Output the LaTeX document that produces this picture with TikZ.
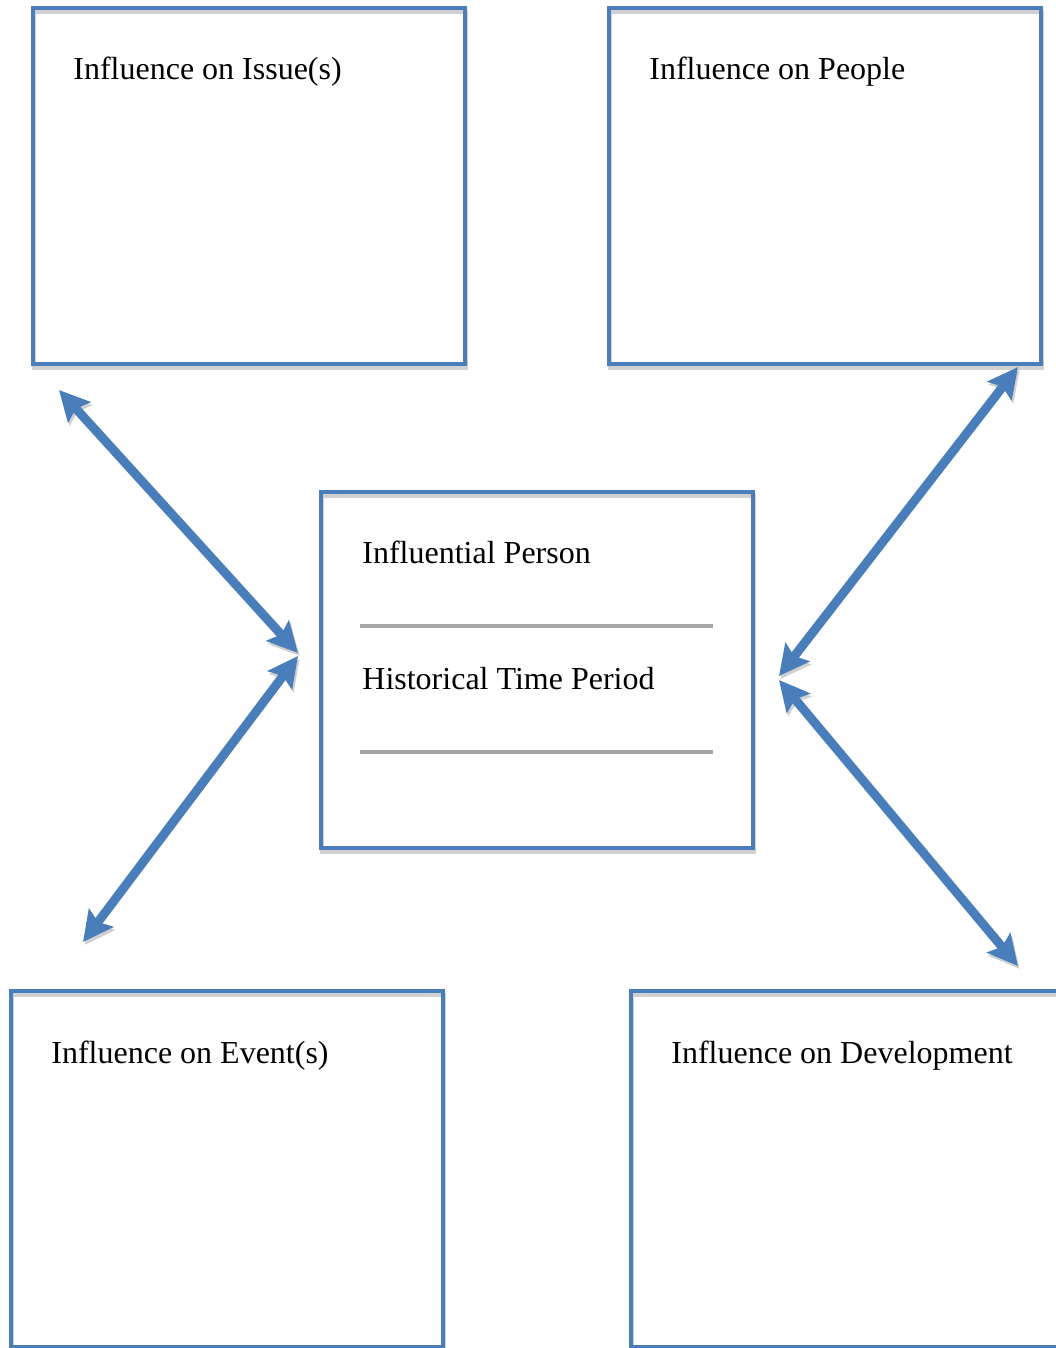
\documentclass[tikz,border=0pt]{standalone}
\usepackage{fontspec}
\setmainfont{Liberation Serif}
\usetikzlibrary{arrows.meta}

\definecolor{boxblue}{RGB}{74,126,187}
\definecolor{shade}{RGB}{208,208,208}
\definecolor{linegray}{RGB}{166,166,166}

\begin{document}
\begin{tikzpicture}[
  x=0.5pt, y=-0.5pt,
  box/.style={rectangle, draw=boxblue, line width=2pt, inner sep=0pt, outer sep=0pt,
              minimum width=216pt, minimum height=178pt,
              preaction={draw=shade, transform canvas={shift={(0.5pt,-2pt)}}}},
  heading/.style={anchor=base west, inner sep=0pt, font=\fontsize{16}{19}\selectfont},
  fillin/.style={draw=linegray, line width=1.6pt},
  link/.style={draw=boxblue, line width=4.5pt,
               {Stealth[length=15pt, width=15pt, inset=2.5pt]}-{Stealth[length=15pt, width=15pt, inset=2.5pt]},
               preaction={draw=shade, transform canvas={shift={(0.8pt,-1.5pt)}}}}
]
\useasboundingbox (0,0) rectangle (1055,1348);

% boxes
\node[box] (issues) at (249,186) {};
\node[box] (people) at (825,186) {};
\node[box] (person) at (537,670) {};
\node[box] (events) at (227,1169) {};
\node[box] (development) at (847,1169) {};

% headings
\node[heading] (issuesText) at ([shift={(40,72)}]issues.north west) {Influence on Issue(s)};
\node[heading] (peopleText) at ([shift={(40,72)}]people.north west) {Influence on People};
\node[heading] (personText) at ([shift={(41,71)}]person.north west) {Influential Person};
\node[heading] (periodText) at ([shift={(41,197)}]person.north west) {Historical Time Period};
\node[heading] (eventsText) at ([shift={(40,72)}]events.north west) {Influence on Event(s)};
\node[heading] (developmentText) at ([shift={(40,72)}]development.north west) {Influence on Development};

% blanks to fill in
\draw[fillin] ([shift={(39,134)}]person.north west) -- ([shift={(392,134)}]person.north west);
\draw[fillin] ([shift={(39,260)}]person.north west) -- ([shift={(392,260)}]person.north west);

% arrow ends
\coordinate (issuesEnd) at (59,390);
\coordinate (personNW) at (298,653);
\coordinate (personSW) at (298,656);
\coordinate (eventsEnd) at (83,942);
\coordinate (peopleEnd) at (1018,367);
\coordinate (personNE) at (779,676);
\coordinate (personSE) at (779,680);
\coordinate (developmentEnd) at (1018,966);

\draw[link] (issuesEnd) -- (personNW);
\draw[link] (personSW) -- (eventsEnd);
\draw[link] (peopleEnd) -- (personNE);
\draw[link] (personSE) -- (developmentEnd);
\end{tikzpicture}
\end{document}
